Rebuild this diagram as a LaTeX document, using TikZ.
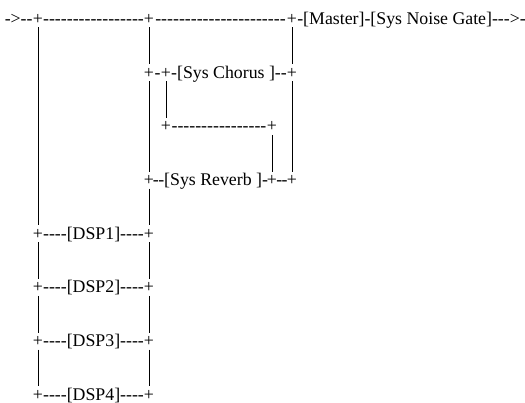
\documentclass[tikz,border=0pt]{standalone}
\usepackage{fontspec}
\newfontfamily\asc{Liberation Serif}[Ligatures=TeXOff]
\usetikzlibrary{calc}
\begin{document}
\begin{tikzpicture}[x=1pt,y=-1pt,
  txt/.style={inner sep=0pt,outer sep=0pt,anchor=base,font=\asc\fontsize{17.8pt}{20pt}\selectfont},
  pipe/.style={line width=0.8pt,shorten <=8pt,shorten >=9pt}]
\useasboundingbox[fill=white] (0,0) rectangle (525,403);
% row 0
\node[txt] (a0) at (38,24.5) {+};
\node[txt] (b0) at (149,24.5) {+};
\node[txt] (c0) at (292,24.5) {+};
\node[txt,anchor=base east] (t0a) at ([xshift=-0.4pt]a0.base west) {->--};
\node[txt] (t0b) at ($(a0.base)!0.5!(b0.base)$) {-----------------};
\node[txt] (t0c) at ($(b0.base)!0.5!(c0.base)$) {----------------------};
\node[txt,anchor=base west] (t0d) at ([xshift=0.3pt]c0.base east) {-[Master]-[Sys Noise Gate]--->-};
% row 1
\node[txt] (b1) at (149,78.2) {+};
\node[txt] (d1) at (166,78.2) {+};
\node[txt] (c1) at (292,78.2) {+};
\node[txt] (t1a) at ($(b1.base)!0.5!(d1.base)$) {-};
\node[txt] (t1b) at ($(d1.base)!0.5!(c1.base)$) {-[Sys Chorus ]--};
% row 2
\node[txt] (d2) at (166,131.9) {+};
\node[txt] (e2) at (272,131.9) {+};
\node[txt] (t2a) at ($(d2.base)!0.5!(e2.base)$) {----------------};
% row 3
\node[txt] (b3) at (149,185.6) {+};
\node[txt] (e3) at (272,185.6) {+};
\node[txt] (c3) at (292,185.6) {+};
\node[txt] (t3a) at ($(b3.base)!0.5!(e3.base)$) {-\kern-0.6pt-[Sys Reverb ]-};
\node[txt] (t3b) at ($(e3.base)!0.5!(c3.base)$) {-\kern-0.8pt-};
% DSP rows
\node[txt] (a4) at (38,239.3) {+};
\node[txt] (b4) at (149,239.3) {+};
\node[txt] (t4) at ($(a4.base)!0.5!(b4.base)$) {----[DSP1]----};
\node[txt] (a5) at (38,293) {+};
\node[txt] (b5) at (149,293) {+};
\node[txt] (t5) at ($(a5.base)!0.5!(b5.base)$) {----[DSP2]----};
\node[txt] (a6) at (38,346.7) {+};
\node[txt] (b6) at (149,346.7) {+};
\node[txt] (t6) at ($(a6.base)!0.5!(b6.base)$) {----[DSP3]----};
\node[txt] (a7) at (38,400.4) {+};
\node[txt] (b7) at (149,400.4) {+};
\node[txt] (t7) at ($(a7.base)!0.5!(b7.base)$) {----[DSP4]----};
% pipes
\draw[pipe] (a0.center) -- (a0.center |- a4.center);
\draw[pipe] (a4.center) -- (a4.center |- a5.center);
\draw[pipe] (a5.center) -- (a5.center |- a6.center);
\draw[pipe] (a6.center) -- (a6.center |- a7.center);
\draw[pipe] (b0.center) -- (b0.center |- b1.center);
\draw[pipe] (b1.center) -- (b1.center |- b3.center);
\draw[pipe] (b3.center) -- (b3.center |- b4.center);
\draw[pipe] (b4.center) -- (b4.center |- b5.center);
\draw[pipe] (b5.center) -- (b5.center |- b6.center);
\draw[pipe] (b6.center) -- (b6.center |- b7.center);
\draw[pipe] (c0.center) -- (c0.center |- c1.center);
\draw[pipe] (c1.center) -- (c1.center |- c3.center);
\draw[pipe] (d1.center) -- (d1.center |- d2.center);
\draw[pipe] (e2.center) -- (e2.center |- e3.center);
\end{tikzpicture}
\end{document}
